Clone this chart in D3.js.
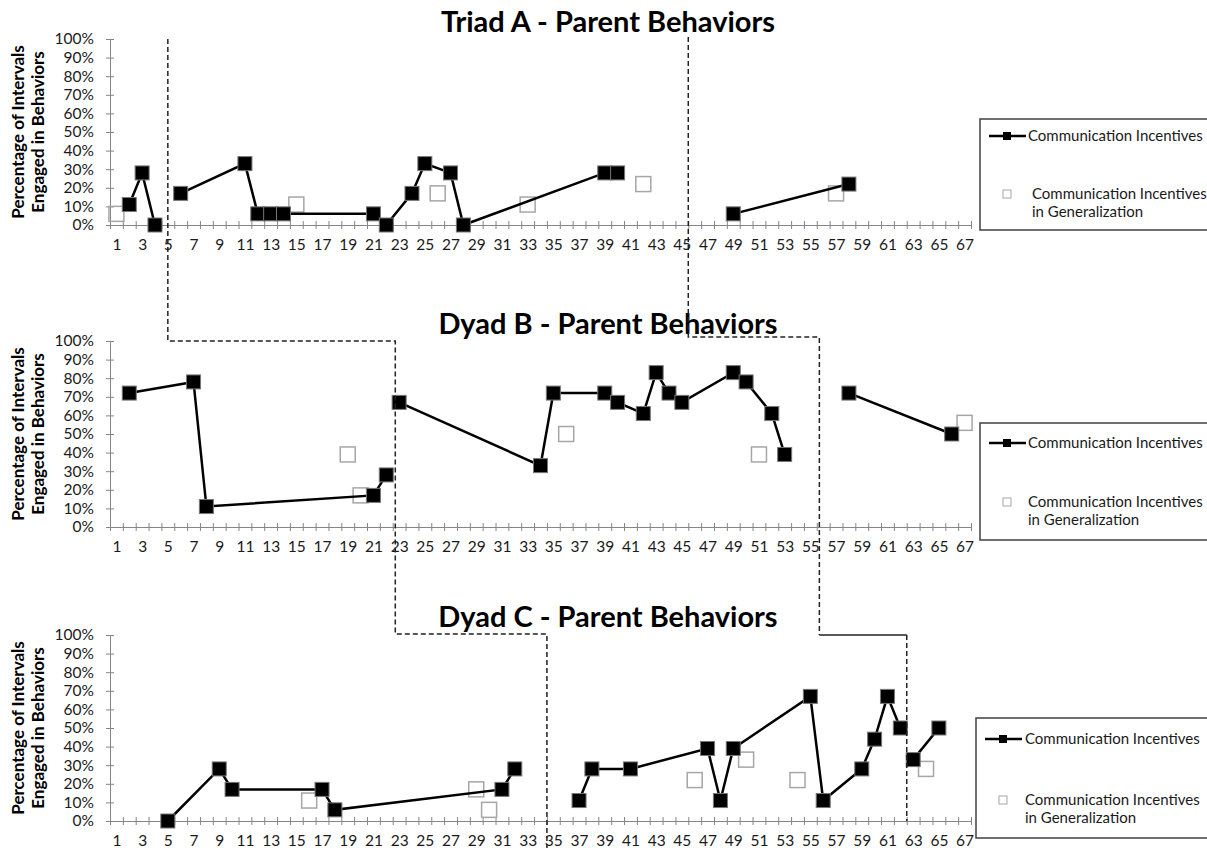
<!DOCTYPE html>
<html>
<head>
<meta charset="utf-8">
<script src="https://cdn.jsdelivr.net/npm/d3@7"></script>
<style>
    body { margin: 0; background: #fff; }
    svg { display: block; font-family: Lato, "Open Sans", sans-serif; }
</style>
</head>
<body>
<svg id="chart" width="1207" height="848"></svg>
<script>
    "use strict";

    var sessionCount = 67
    var yTicks = [0, 10, 20, 30, 40, 50, 60, 70, 80, 90, 100]
    var xLabels = d3.range(1, sessionCount + 1, 2)
    var titles = ["Triad A - Parent Behaviors", "Dyad B - Parent Behaviors", "Dyad C - Parent Behaviors"]
    var yTitle = ["Percentage of Intervals", "Engaged in Behaviors"]
    var seriesName = "Communication Incentives"
    var generalName = ["Communication Incentives", "in Generalization"]

    // [session, percent] - one array per phase, phases are not joined
    var triadA1 = [[2, 11], [3, 28], [4, 0]]
    var triadA2 = [[6, 17], [11, 33], [12, 6], [13, 6], [14, 6], [21, 6], [22, 0], [24, 17],
        [25, 33], [27, 28], [28, 0], [39, 28], [40, 28]]
    var triadA3 = [[49, 6], [58, 22]]
    var triadAGen = [[1, 6], [15, 11], [26, 17], [33, 11], [42, 22], [57, 17]]

    var dyadB1 = [[2, 72], [7, 78], [8, 11], [21, 17], [22, 28]]
    var dyadB2 = [[23, 67], [34, 33], [35, 72], [39, 72], [40, 67], [42, 61], [43, 83], [44, 72],
        [45, 67], [49, 83], [50, 78], [52, 61], [53, 39]]
    var dyadB3 = [[58, 72], [66, 50]]
    var dyadBGen = [[19, 39], [20, 17], [36, 50], [51, 39], [67, 56]]

    var dyadC1 = [[5, 0], [9, 28], [10, 17], [17, 17], [18, 6], [31, 17], [32, 28]]
    var dyadC2 = [[37, 11], [38, 28], [41, 28], [47, 39], [48, 11], [49, 39], [55, 67], [56, 11],
        [59, 28], [60, 44], [61, 67], [62, 50]]
    var dyadC3 = [[63, 33], [65, 50]]
    var dyadCGen = [[16, 11], [29, 17], [30, 6], [46, 22], [50, 33], [54, 22], [64, 28]]

    // phase change positions (in sessions) for each panel
    var phaseA = [5, 45.5]
    var phaseB = [22.7, 55.7]
    var phaseC = [34.5, 62.5]

    var axisColor = "#868686"
    var svg = d3.select("#chart")

    var x = d3.scaleLinear()
        .domain([0.5, sessionCount + 0.5])
        .range([110, 971])

    var panels = [
        {title: titles[0], top: 39, bottom: 225, titleY: 32, phases: [triadA1, triadA2, triadA3],
            general: triadAGen, legend: {x: 980, y: 119, h: 111, line: 17, gen: 75, tx: 48, gx: 52}},
        {title: titles[1], top: 341, bottom: 527, titleY: 334, phases: [dyadB1, dyadB2, dyadB3],
            general: dyadBGen, legend: {x: 980, y: 423, h: 117, line: 20, gen: 79, tx: 48, gx: 48}},
        {title: titles[2], top: 635, bottom: 821, titleY: 627, phases: [dyadC1, dyadC2, dyadC3],
            general: dyadCGen, legend: {x: 976, y: 718, h: 120, line: 21, gen: 82, tx: 49, gx: 49}}
    ]

    panels.forEach(function(p) {
        var y = d3.scaleLinear().domain([0, 100]).range([p.bottom, p.top])
        p.y = y
        var g = svg.append("g")

        // title
        g.append("text")
            .attr("x", 608)
            .attr("y", p.titleY)
            .attr("text-anchor", "middle")
            .style("font-size", "29px")
            .style("font-weight", "bold")
            .style("fill", "#000")
            .text(p.title)

        // y axis title, two rotated lines
        var mid = (p.top + p.bottom) / 2
        yTitle.forEach(function(t, i) {
            g.append("text")
                .attr("transform", "translate(" + (24 + i * 20) + "," + mid + ") rotate(-90)")
                .attr("text-anchor", "middle")
                .style("font-size", "17px")
                .style("font-weight", "bold")
                .style("fill", "#000")
                .text(t)
        })

        // y axis
        var yAxis = g.append("g")
            .attr("transform", "translate(110,0)")
            .call(d3.axisLeft(y).tickValues(yTicks).tickSize(4).tickPadding(12)
                .tickFormat(function(d) { return d + "%" }))
        yAxis.selectAll("line").attr("x1", 4)

        // x axis: ticks on session edges, crossing the line
        var xAxis = g.append("g")
            .attr("transform", "translate(0," + p.bottom + ")")
            .call(d3.axisBottom(x).tickValues(d3.range(0.5, sessionCount + 1, 1)).tickSize(4)
                .tickFormat(""))
        xAxis.selectAll("line").attr("y1", -4)

        var xLab = g.append("g")
            .attr("transform", "translate(0," + p.bottom + ")")
            .call(d3.axisBottom(x).tickValues(xLabels).tickSize(0).tickPadding(14))
        xLab.select(".domain").remove()

        g.selectAll(".domain, .tick line").attr("stroke", axisColor)
        g.selectAll(".tick text")
            .style("font-size", "15.5px")
            .style("font-family", "Lato, 'Open Sans', sans-serif")
            .style("fill", "#1a1a1a")

        // generalization probes (open squares)
        g.selectAll(".gen")
            .data(p.general)
            .enter().append("rect")
            .attr("class", "gen")
            .attr("x", function(d) { return x(d[0]) - 7.5 })
            .attr("y", function(d) { return y(d[1]) - 7.5 })
            .attr("width", 15)
            .attr("height", 15)
            .style("fill", "none")
            .style("stroke", "#a6a6a6")
            .style("stroke-width", 1.5)

        var line = d3.line()
            .x(function(d) { return x(d[0]) })
            .y(function(d) { return y(d[1]) })

        p.phases.forEach(function(phase) {
            g.append("path")
                .datum(phase)
                .attr("d", line)
                .style("fill", "none")
                .style("stroke", "#000")
                .style("stroke-width", 2.5)
        })

        p.phases.forEach(function(phase) {
            g.selectAll(null)
                .data(phase)
                .enter().append("rect")
                .attr("x", function(d) { return x(d[0]) - 7 })
                .attr("y", function(d) { return y(d[1]) - 7 })
                .attr("width", 14)
                .attr("height", 14)
                .style("fill", "#000")
                .style("stroke", "#777")
                .style("stroke-width", 1)
        })

        // legend box, its right side runs off the page
        var L = p.legend
        var lg = g.append("g").attr("transform", "translate(" + L.x + "," + L.y + ")")
        lg.append("rect")
            .attr("width", 260)
            .attr("height", L.h)
            .style("fill", "none")
            .style("stroke", "#404040")
            .style("stroke-width", 1.5)
        lg.append("line")
            .attr("x1", 9).attr("x2", 46)
            .attr("y1", L.line).attr("y2", L.line)
            .style("stroke", "#000")
            .style("stroke-width", 2.5)
        lg.append("rect")
            .attr("x", 23).attr("y", L.line - 4)
            .attr("width", 8).attr("height", 8)
            .style("fill", "#000")
        lg.append("text")
            .attr("x", L.tx).attr("y", L.line + 5)
            .style("font-size", "15px")
            .style("fill", "#1a1a1a")
            .text(seriesName)
        lg.append("rect")
            .attr("x", 23).attr("y", L.gen - 4)
            .attr("width", 8).attr("height", 8)
            .style("fill", "none")
            .style("stroke", "#a6a6a6")
            .style("stroke-width", 1)
        generalName.forEach(function(t, i) {
            lg.append("text")
                .attr("x", L.gx).attr("y", L.gen + 5 + i * 18)
                .style("font-size", "15px")
                .style("fill", "#1a1a1a")
                .text(t)
        })
    })

    // phase change lines running down through the three panels
    var yA = panels[0].y, yB = panels[1].y, yC = panels[2].y
    var phasePath1 = [
        [x(phaseA[0]), yA(100)], [x(phaseA[0]), yB(100)], [x(phaseB[0]), yB(100)],
        [x(phaseB[0]), yC(100) - 1], [x(phaseC[0]), yC(100) - 1], [x(phaseC[0]), 848]
    ]
    var phasePath2 = [
        [x(phaseA[1]), yA(100) - 2], [x(phaseA[1]), yB(100) - 4], [x(phaseB[1]), yB(100) - 4],
        [x(phaseB[1]), yC(100)]
    ]
    var phasePath3 = [[x(phaseC[1]), yC(100)], [x(phaseC[1]), yC(0)]]

    var straight = d3.line()
    ;[phasePath1, phasePath2, phasePath3].forEach(function(pts) {
        svg.append("path")
            .attr("d", straight(pts))
            .style("fill", "none")
            .style("stroke", "#222")
            .style("stroke-width", 1.5)
            .style("stroke-dasharray", "5,3")
    })
    // the short top step of the last phase line is solid in the original
    svg.append("path")
        .attr("d", straight([[x(phaseB[1]), yC(100)], [x(phaseC[1]), yC(100)]]))
        .style("fill", "none")
        .style("stroke", "#222")
        .style("stroke-width", 1.5)
</script>
</body>
</html>
